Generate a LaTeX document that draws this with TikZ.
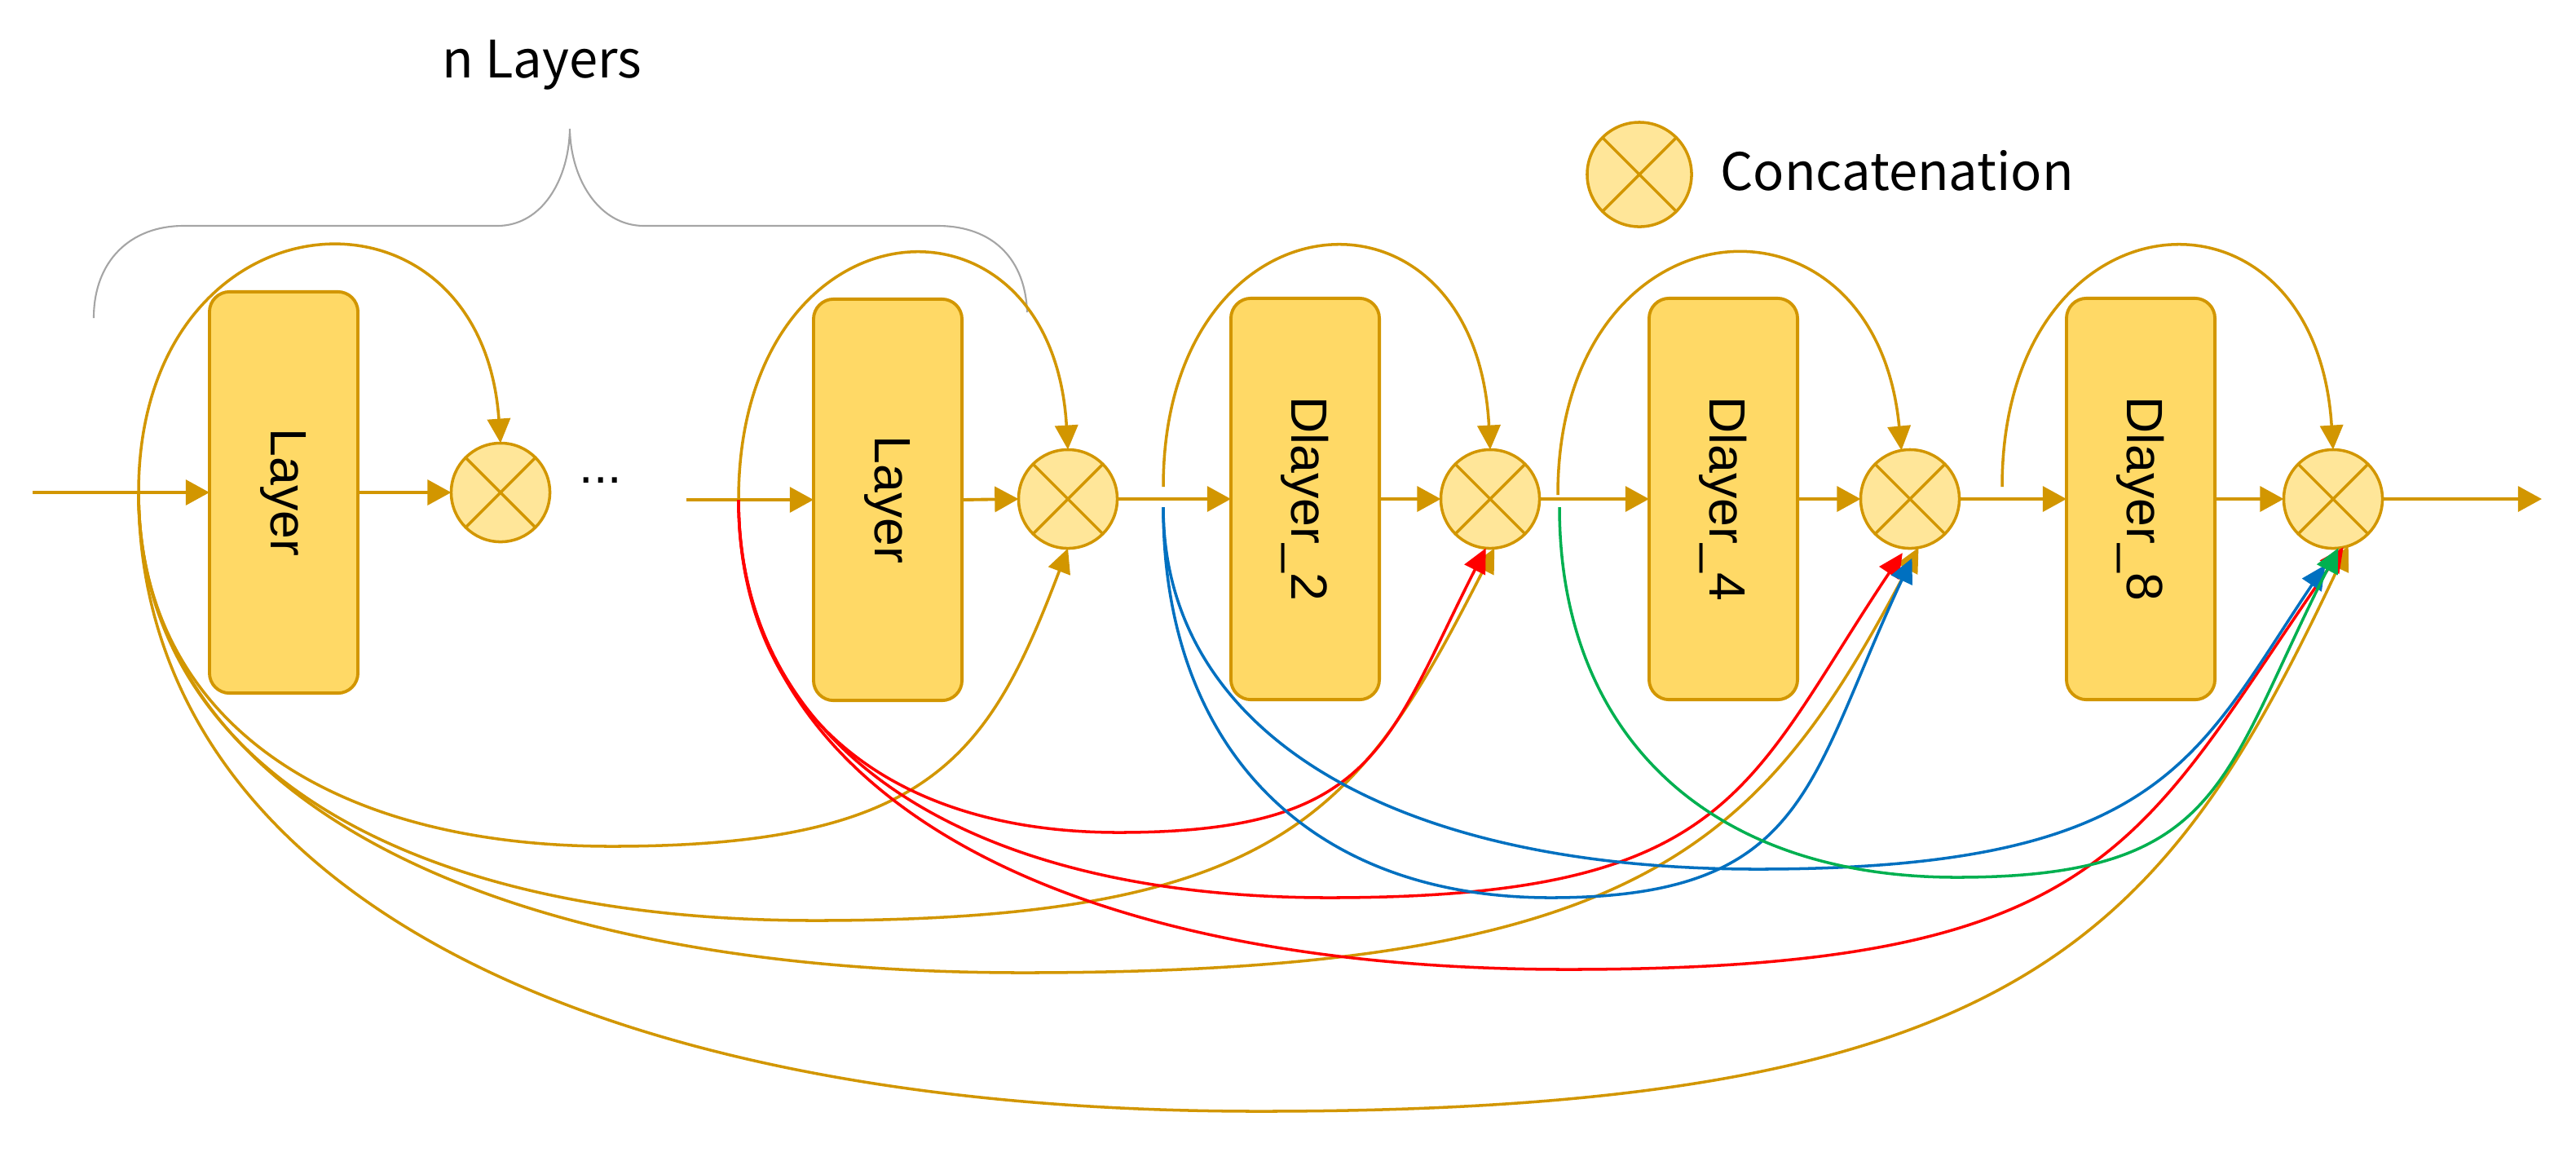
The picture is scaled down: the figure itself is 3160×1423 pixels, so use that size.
\documentclass[tikz,border=0pt]{standalone}
\usepackage{fontspec}
\setmainfont{Liberation Sans}
\newfontfamily\cjkfont{Noto Sans CJK SC}
\usetikzlibrary{arrows.meta}
\definecolor{gold}{RGB}{210,150,0}
\definecolor{boxfill}{RGB}{255,217,102}
\definecolor{catfill}{RGB}{255,230,153}
\definecolor{cred}{RGB}{255,0,0}
\definecolor{cblue}{RGB}{0,112,192}
\definecolor{cgreen}{RGB}{0,176,80}
\definecolor{bracegray}{RGB}{165,165,165}
\begin{document}
\begin{tikzpicture}[x=0.01cm,y=-0.01cm,
  layerbox/.style={draw=gold, fill=boxfill, line width=1.1pt, rounded corners=7pt,
    minimum width=1.82cm, minimum height=4.92cm, inner sep=0pt, outer sep=0pt},
  labeltext/.style={rotate=-90, font=\fontsize{17.8pt}{20pt}\selectfont},
  catnode/.style={circle, draw=gold, fill=catfill, line width=1pt, minimum size=1.21cm,
    inner sep=0pt, outer sep=0pt,
    path picture={\draw[gold,line width=1pt]
      (path picture bounding box.north west) -- (path picture bounding box.south east)
      (path picture bounding box.north east) -- (path picture bounding box.south west);}},
  flow/.style={draw=gold, line width=1.1pt, -{Triangle[length=8.3pt,width=8.8pt]}},
  skip/.style={line width=1pt, -{Triangle[length=8.5pt,width=8pt]}},
  legendtext/.style={font=\cjkfont\fontsize{18pt}{21pt}\selectfont},
]
\useasboundingbox (0,0) rectangle (3160,1423);

% brace
\draw[bracegray, line width=0.6pt]
  (115,390) .. controls (115,320) and (160,277) .. (225,277) -- (610,277)
  .. controls (665,277) and (698,220) .. (699,158)
  .. controls (700,220) and (735,277) .. (790,277) -- (1150,277)
  .. controls (1220,277) and (1258,320) .. (1260,383);
\node[legendtext, anchor=base] (nl) at (665,95) {n Layers};

% legend
\node[catnode, minimum size=1.28cm] (leg) at (2011,214) {};
\node[legendtext, anchor=base west] (legt) at (2098,233) {Concatenation};

% boxes
\node[layerbox, label={[labeltext]center:Layer}] (b1) at (348,604) {};
\node[layerbox, label={[labeltext]center:Layer}] (b2) at (1089,613) {};
\node[layerbox, label={[labeltext]center:Dlayer\_2}] (b3) at (1601,612) {};
\node[layerbox, label={[labeltext]center:Dlayer\_4}] (b4) at (2114,612) {};
\node[layerbox, label={[labeltext]center:Dlayer\_8}] (b5) at (2626,612) {};

% concatenations
\node[catnode] (c1) at (614,604) {};
\node[catnode] (c2) at (1310,612) {};
\node[catnode] (c3) at (1828,612) {};
\node[catnode] (c4) at (2343,612) {};
\node[catnode] (c5) at (2862,612) {};

\node[anchor=base, font=\fontsize{17.8pt}{20pt}\selectfont] (dots) at (737,592) {...};

% coordinates
\coordinate (in1) at (40,604);
\coordinate (in2) at (842,613);
\coordinate (out) at (3118,612);
\coordinate (sg) at (170,604);
\coordinate (sr) at (906,613);
\coordinate (sa3) at (1427,597);
\coordinate (sb) at (1427,622);
\coordinate (sa4) at (1911,607);
\coordinate (sgr) at (1913,622);
\coordinate (sa5) at (2456,597);

% main flow
\draw[flow] (in1) -- (b1.west);
\draw[flow] (b1.east) -- (c1.west);
\draw[flow] (in2) -- (b2.west);
\draw[flow] (b2.east) -- (c2.west);
\draw[flow] (c2.east) -- (b3.west);
\draw[flow] (b3.east) -- (c3.west);
\draw[flow] (c3.east) -- (b4.west);
\draw[flow] (b4.east) -- (c4.west);
\draw[flow] (c4.east) -- (b5.west);
\draw[flow] (b5.east) -- (c5.west);
\draw[flow] (c5.east) -- (out);

% top skip arcs
\draw[skip,gold] (sg) .. controls (170,230) and (590,200) .. (c1.north);
\draw[skip,gold] (sr) .. controls (906,240) and (1290,210) .. (c2.north);
\draw[skip,gold] (sa3) .. controls (1427,230) and (1810,200) .. (c3.north);
\draw[skip,gold] (sa4) .. controls (1911,240) and (2300,210) .. (c4.100);
\draw[skip,gold] (sa5) .. controls (2456,230) and (2840,200) .. (c5.north);

% bottom dense connections: gold
\draw[skip,gold] (sg) .. controls +(0,269) and +(-360,0) .. (750,1038)
  .. controls +(392,0) and +(-97,255) .. (c2.south);
\draw[skip,gold] (sg) .. controls +(0,326) and +(-515,0) .. (1000,1129)
  .. controls +(580,0) and +(-163,319) .. (c3.-85);
\draw[skip,gold] (sg) .. controls +(0,365) and +(-673,0) .. (1255,1193)
  .. controls +(769,0) and +(-190,359) .. (c4.-80);
\draw[skip,gold] (sg) .. controls +(0,471) and +(-853,0) .. (1545,1363)
  .. controls +(936,0) and +(-226,480) .. (c5.-72);
% red
\draw[skip,cred] (sr) .. controls +(0,254) and +(-289,0) .. (1372,1021)
  .. controls +(316,0) and +(-123,242) .. (c3.-95);
\draw[skip,cred,shorten >=2pt] (sr) .. controls +(0,303) and +(-449,0) .. (1630,1101)
  .. controls +(497,0) and +(-196,293) .. (c4.-95);
\draw[skip,cred] (sr) .. controls +(0,358) and +(-631,0) .. (1923,1189)
  .. controls +(669,0) and +(-253,362) .. (c5.-78);
% blue
\draw[skip,cblue,shorten >=4pt] (sb) .. controls +(0,297) and +(-295,0) .. (1902,1101)
  .. controls +(317,0) and +(-135,288) .. (c4.-82);
\draw[skip,cblue,shorten >=7pt] (sb) .. controls +(0,275) and +(-452,0) .. (2156,1066)
  .. controls +(498,0) and +(-172,256) .. (c5.-86);
% green
\draw[skip,cgreen] (sgr) .. controls +(0,281) and +(-302,0) .. (2400,1076)
  .. controls +(329,0) and +(-144,283) .. (c5.-84);
\end{tikzpicture}
\end{document}
